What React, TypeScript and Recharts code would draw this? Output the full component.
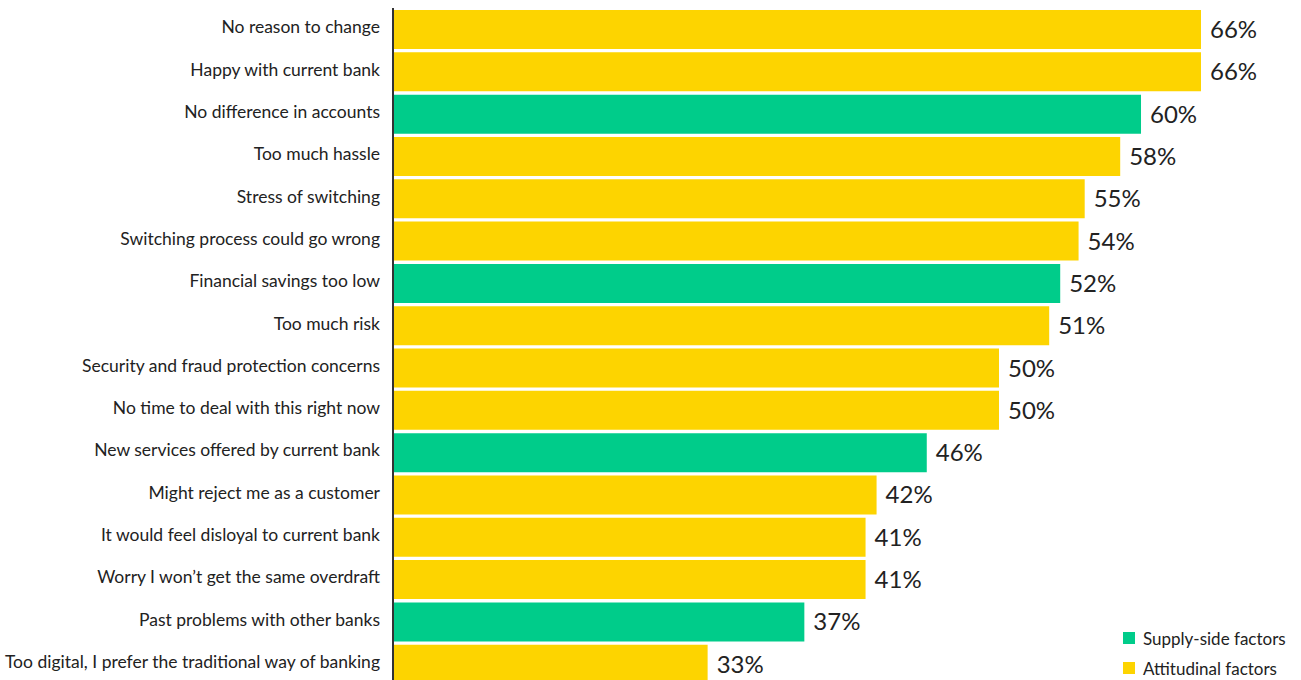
import React from "react"
import { BarChart, Bar, XAxis, YAxis, Cell, LabelList, Legend } from "recharts"

const reasons = [
  "No reason to change",
  "Happy with current bank",
  "No difference in accounts",
  "Too much hassle",
  "Stress of switching",
  "Switching process could go wrong",
  "Financial savings too low",
  "Too much risk",
  "Security and fraud protection concerns",
  "No time to deal with this right now",
  "New services offered by current bank",
  "Might reject me as a customer",
  "It would feel disloyal to current bank",
  "Worry I won\u2019t get the same overdraft",
  "Past problems with other banks",
  "Too digital, I prefer the traditional way of banking",
]

// printed percentages
const shares = [66, 66, 60, 58, 55, 54, 52, 51, 50, 50, 46, 42, 41, 41, 37, 33]

// bar lengths as drawn in the source (they don't track the printed numbers exactly)
const barLengths = [66, 66, 61.1, 59.4, 56.5, 56, 54.5, 53.6, 49.5, 49.5, 43.6, 39.5, 38.6, 38.6, 33.6, 25.7]

const groups = ["att", "att", "sup", "att", "att", "att", "sup", "att", "att", "att", "sup", "att", "att", "att", "sup", "att"]

const groupColors: Record<string, string> = { sup: "#00CC8A", att: "#FDD400" }
const legendItems = [
  { key: "sup", label: "Supply-side factors" },
  { key: "att", label: "Attitudinal factors" },
]

const data = reasons.map((reason, i) => ({
  reason,
  bar: barLengths[i],
  share: shares[i],
  group: groups[i],
}))

const font = "Lato, 'Open Sans', sans-serif"

function LegendBox() {
  return (
    <div style={{ fontFamily: font, fontSize: 17, color: "#222", whiteSpace: "nowrap" }}>
      {legendItems.map((item) => (
        <div key={item.key} style={{ display: "flex", alignItems: "center", height: 30 }}>
          <span
            style={{
              width: 12,
              height: 12,
              flexShrink: 0,
              background: groupColors[item.key],
              marginRight: 8,
              display: "inline-block",
            }}
          />
          {item.label}
        </div>
      ))}
    </div>
  )
}

export default function App() {
  return (
    <div style={{ position: "absolute", left: 0, top: 0 }}>
      <BarChart
        width={1301}
        height={690}
        data={data}
        layout="vertical"
        margin={{ top: 8, right: 100, left: 0, bottom: 5 }}
      >
        <XAxis type="number" domain={[0, 66]} hide />
        <YAxis
          type="category"
          dataKey="reason"
          width={393}
          tickLine={false}
          tickSize={0}
          tickMargin={13}
          axisLine={{ stroke: "#333", strokeWidth: 2 }}
          tick={{ fill: "#222", fontSize: 17.5, fontFamily: font, dy: -2 }}
          interval={0}
        />
        <Legend
          layout="vertical"
          verticalAlign="top"
          align="left"
          wrapperStyle={{ left: 1123, top: 623, width: 0, height: 0, overflow: "visible" }}
          content={() => <LegendBox />}
        />
        <Bar dataKey="bar" barSize={39} isAnimationActive={false}>
          {data.map((d, i) => (
            <Cell key={i} fill={groupColors[d.group]} />
          ))}
          <LabelList
            dataKey="share"
            position="right"
            offset={9}
            formatter={(v: any) => `${v}%`}
            style={{ fill: "#222", fontSize: 24, fontFamily: font }}
          />
        </Bar>
      </BarChart>
    </div>
  )
}
